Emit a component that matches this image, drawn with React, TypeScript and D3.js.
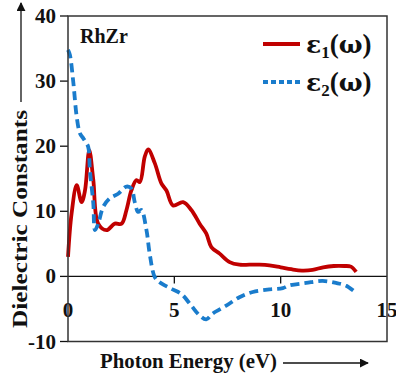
import * as d3 from "d3";

// photon energy (eV) and dielectric constants
const eps1Energy = [0, 0.17, 0.41, 0.64, 0.8, 1.0, 1.19, 1.42, 1.81, 2.2, 2.52, 2.75, 2.98, 3.22, 3.38, 3.61, 3.77, 4.08, 4.39, 4.63, 4.94, 5.41, 5.8, 6.19, 6.5, 6.74, 7.13, 7.6, 8.06, 8.53, 9.0, 9.47, 10.0, 10.5, 11.0, 11.5, 12.0, 12.5, 13.0, 13.3, 13.55];
const eps1Values = [3.0, 9.7, 14.0, 11.4, 13.2, 19.4, 14.8, 8.1, 7.1, 8.1, 8.1, 10.2, 13.2, 14.8, 14.5, 18.4, 19.5, 17.4, 14.3, 13.2, 10.9, 11.4, 10.2, 8.1, 6.6, 4.5, 3.5, 2.2, 1.8, 1.8, 1.8, 1.7, 1.4, 1.1, 0.9, 1.0, 1.4, 1.6, 1.6, 1.5, 0.7];

const eps2Energy = [0, 0.09, 0.25, 0.41, 0.56, 0.72, 0.8, 0.95, 1.03, 1.19, 1.27, 1.42, 1.66, 1.97, 2.36, 2.75, 2.98, 3.14, 3.3, 3.45, 3.69, 3.84, 4.08, 4.31, 4.86, 5.33, 5.8, 6.19, 6.5, 6.81, 7.44, 8.06, 8.69, 9.47, 10.1, 10.4, 11.2, 11.97, 12.6, 13.06, 13.5];
const eps2Values = [34.8, 34.0, 29.8, 24.5, 22, 21.2, 20.8, 19.9, 16.3, 11.2, 7.1, 8.1, 10.7, 12, 12.7, 13.8, 13.5, 11.4, 9.9, 10.2, 7.1, 3.5, -0.1, -0.9, -1.9, -2.7, -4.5, -6, -6.6, -5.7, -4.5, -3.2, -2.4, -2, -1.8, -1.4, -1, -0.7, -1, -1.4, -2.4];

const xTicks = [0, 5, 10, 15];
const yTicks = [-10, 0, 10, 20, 30, 40];

const RED = "#c00000";
const BLUE = "#1a7ccc";
const INK = "#111";
const serif = { fontFamily: '"Liberation Serif", "DejaVu Serif", serif', fontWeight: "bold" as const };
const greek = { fontFamily: '"DejaVu Serif", serif' };

const width = 396;
const height = 379;

const x = d3.scaleLinear().domain([0, 15]).range([68, 387]);
const y = d3.scaleLinear().domain([-10, 40]).range([341.5, 16]);

const line = d3
  .line<[number, number]>()
  .x((d) => x(d[0]))
  .y((d) => y(d[1]))
  .curve(d3.curveCatmullRom.alpha(0.5));

const legend = [
  { sub: "1", color: RED, dash: undefined, cy: 44 },
  { sub: "2", color: BLUE, dash: "5,3", cy: 82 },
];

export default function App() {
  const eps1Path = line(eps1Energy.map((e, i) => [e, eps1Values[i]] as [number, number])) ?? "";
  const eps2Path = line(eps2Energy.map((e, i) => [e, eps2Values[i]] as [number, number])) ?? "";

  return (
    <svg width={width} height={height} style={{ position: "absolute", left: 0, top: 0, background: "#fff" }}>
      <style>{`text { font-family: "Liberation Serif", "DejaVu Serif", serif; font-weight: bold; }`}</style>
      <defs>
        <marker
          id="arrowhead"
          viewBox="0 0 10 10"
          refX={9}
          refY={5}
          markerWidth={9}
          markerHeight={9}
          markerUnits="userSpaceOnUse"
          orient="auto"
        >
          <path d="M0,0 L10,5 L0,10 z" fill={INK} />
        </marker>
      </defs>

      {/* zero line */}
      <line x1={x(0)} x2={x(15)} y1={y(0)} y2={y(0)} stroke={INK} strokeWidth={1.3} />

      {/* x ticks hang below the zero line */}
      {xTicks.slice(1, 3).map((t) => (
        <line key={t} x1={x(t)} x2={x(t)} y1={y(0)} y2={y(0) + 7} stroke={INK} strokeWidth={1.3} />
      ))}
      {xTicks.map((t) => (
        <text key={t} x={x(t)} y={317} textAnchor="middle" fontSize={21} fill={INK} style={serif}>
          {String(t)}
        </text>
      ))}

      {/* y ticks */}
      {yTicks.map((t) => (
        <line key={t} x1={x(0) - 8} x2={x(0)} y1={y(t)} y2={y(t)} stroke={INK} strokeWidth={1.3} />
      ))}
      {yTicks.map((t) => (
        <text key={t} x={56} y={y(t) + 7} textAnchor="end" fontSize={21} fill={INK} style={serif}>
          {String(t)}
        </text>
      ))}

      {/* curves */}
      <path d={eps1Path} fill="none" stroke={RED} strokeWidth={3.8} strokeLinejoin="round" />
      <path d={eps2Path} fill="none" stroke={BLUE} strokeWidth={3.8} strokeDasharray="9,5" />

      {/* frame */}
      <rect
        x={x(0)}
        y={y(40)}
        width={x(15) - x(0)}
        height={y(-10) - y(40)}
        fill="none"
        stroke="#333"
        strokeWidth={1.5}
      />

      <text x={80} y={43} fontSize={20} fill={INK} style={serif}>
        RhZr
      </text>

      {/* legend */}
      {legend.map((d) => (
        <g key={d.sub}>
          <line x1={263} x2={300} y1={d.cy} y2={d.cy} stroke={d.color} strokeWidth={3.8} strokeDasharray={d.dash} />
          <text x={306} y={d.cy + 9} fontSize={27} fill={INK} style={serif}>
            <tspan style={greek} fontSize={25}>ε</tspan>
            <tspan fontSize={17} dy={5}>{d.sub}</tspan>
            <tspan dy={-5}>(</tspan>
            <tspan style={greek} fontSize={25}>ω</tspan>
            <tspan>)</tspan>
          </text>
        </g>
      ))}

      {/* axis titles with arrows */}
      <text
        transform="translate(27,219) rotate(-90)"
        textAnchor="middle"
        fontSize={22}
        textLength={218}
        lengthAdjust="spacingAndGlyphs"
        fill={INK}
        style={serif}
      >
        Dielectric Constants
      </text>
      <line x1={21} x2={21} y1={102} y2={3} stroke={INK} strokeWidth={1.3} markerEnd="url(#arrowhead)" />

      <text
        x={100}
        y={368}
        fontSize={21}
        textLength={177}
        lengthAdjust="spacingAndGlyphs"
        fill={INK}
        style={serif}
      >
        Photon Energy (eV)
      </text>
      <line x1={283} x2={368} y1={363} y2={363} stroke={INK} strokeWidth={1.3} markerEnd="url(#arrowhead)" />
    </svg>
  );
}
